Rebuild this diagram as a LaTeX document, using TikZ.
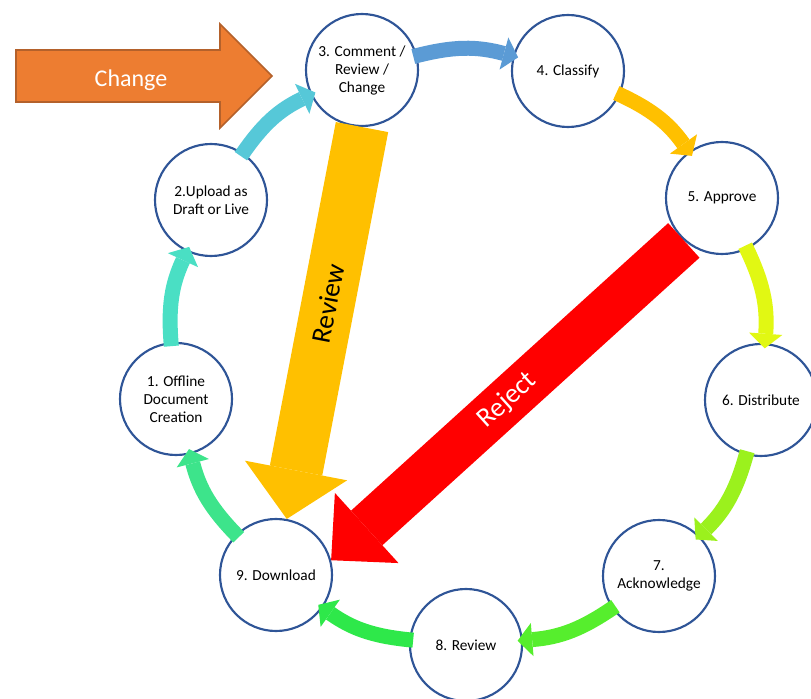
\documentclass[tikz,border=0pt]{standalone}
\usepackage{fontspec}
\setmainfont{Carlito}
\usepackage{xcolor}
\usepackage{tikz}
\usetikzlibrary{arrows.meta, shapes.arrows}

\definecolor{ringblue}{HTML}{2F5597}
\definecolor{c12}{HTML}{4ADFC4}
\definecolor{c23}{HTML}{56C8D8}
\definecolor{c34}{HTML}{5B9BD5}
\definecolor{c45}{HTML}{FFC000}
\definecolor{c56}{HTML}{E1F813}
\definecolor{c67}{HTML}{9BF11D}
\definecolor{c78}{HTML}{56EE2D}
\definecolor{c89}{HTML}{2EE84A}
\definecolor{c91}{HTML}{3DE48B}
\definecolor{changefill}{HTML}{ED7D31}
\definecolor{changeline}{HTML}{B4612B}
\definecolor{reviewc}{HTML}{FFC000}
\definecolor{rejectc}{HTML}{FF0000}

\begin{document}
\begin{tikzpicture}[
    x=0.75pt, y=-0.75pt,
    stage/.style={circle, draw=ringblue, line width=1.6pt, minimum size=84pt, inner sep=0pt, align=center, font=\fontsize{11.5}{13.5}\selectfont},
    flow/.style={line width=11.25pt, -{Triangle[length=11pt, width=25pt, line width=0pt]}, bend left=15, shorten >=-4pt, shorten <=-3pt},
    review/.style={draw=reviewc, line width=40pt, -{Triangle[length=37pt, width=78pt, line width=0pt]}},
    reject/.style={draw=rejectc, line width=35pt, -{Triangle[length=36pt, width=71pt, line width=0pt]}},
    changearrow/.style={single arrow, draw=changeline, fill=changefill, line width=1.2pt, minimum height=192pt, inner ysep=0pt, text height=27.15pt, text depth=10.65pt, single arrow head extend=19.5pt, text=white, font=\fontsize{18}{20}\selectfont},
    biglabel/.style={sloped, font=\fontsize{20.5}{22}\selectfont},
]
\useasboundingbox (0,0) rectangle (811,699);

% Stages
\node[stage] (s1) at (176,399) {1. Offline\\Document\\Creation};
\node[stage] (s2) at (211,200) {2.Upload as\\Draft or Live};
\node[stage] (s3) at (362,70) {3. Comment /\\Review /\\Change};
\node[stage] (s4) at (568,71) {4. Classify};
\node[stage] (s5) at (722,198) {5. Approve};
\node[stage] (s6) at (761,400) {6. Distribute};
\node[stage] (s7) at (659,576) {7.\\Acknowledge};
\node[stage] (s8) at (466,645) {8. Review};
\node[stage] (s9) at (276,575) {9. Download};

% Change input
\node[changearrow] (change) at (131,76) {Change};

% --- Cycle arrows ---
\draw[flow, draw=c12] (s1) to (s2);
\draw[flow, draw=c23] (s2) to (s3);
\draw[flow, draw=c34] (s3) to (s4);
\draw[flow, draw=c45] (s4) to (s5);
\draw[flow, draw=c56] (s5) to (s6);
\draw[flow, draw=c67] (s6) to (s7);
\draw[flow, draw=c78] (s7) to (s8);
\draw[flow, draw=c89] (s8) to (s9);
\draw[flow, draw=c91] (s9) to (s1);

% Shortcuts
\draw[review] (s3.south) -- node[biglabel, pos=0.45, text=black] {Review} (s9);
\draw[reject] (s5.228) -- node[biglabel, pos=0.5, text=white] {Reject} (s9.15);

\end{tikzpicture}
\end{document}
